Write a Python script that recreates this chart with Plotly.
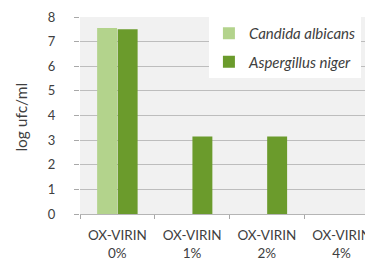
import plotly.graph_objects as go

categories = ["OX-VIRIN<br>0%", "OX-VIRIN<br>1%", "OX-VIRIN<br>2%", "OX-VIRIN<br>4%"]
candida = [7.55, 0, 0, 0]
aspergillus = [7.5, 3.15, 3.15, 0]
y_ticks = [0, 1, 2, 3, 4, 5, 6, 7, 8]

fig = go.Figure()
fig.add_trace(go.Bar(x=categories, y=candida, name="Candida albicans", legendgroup="c",
                     marker=dict(color="#b3d38c", line=dict(width=0))))
fig.add_trace(go.Bar(x=categories, y=aspergillus, name="Aspergillus niger", legendgroup="a",
                     marker=dict(color="#6b9b2c", line=dict(width=0))))

fig.update_layout(
    width=365, height=257,
    margin=dict(l=72, r=0, t=9, b=51),
    paper_bgcolor="white",
    plot_bgcolor="#f1f1f1",
    barmode="group",
    bargap=0.45,
    bargroupgap=0.03,
    font=dict(family="Lato, sans-serif", size=12, color="#404040"),
    legend=dict(x=0.44, y=1.0, xanchor="left", yanchor="top",
                bgcolor="white", font=dict(size=15, color="#404040", style="italic"),
                tracegroupgap=6, itemwidth=30),
    xaxis=dict(range=[-0.5, 3.42], tickson="boundaries", ticks="outside",
               ticklen=4, tickcolor="#a8a8a8", showline=True, linecolor="#b5b5b5",
               showgrid=False, automargin=False, ticklabelstandoff=9,
               tickfont=dict(size=13.5, color="#404040")),
    yaxis=dict(range=[0, 8], tickvals=y_ticks, showgrid=True, gridcolor="#bdbdbd",
               gridwidth=1, ticks="outside", ticklen=5, tickcolor="#a8a8a8",
               zeroline=False, automargin=False, ticklabelstandoff=16,
               tickfont=dict(size=13, color="#404040")),
    annotations=[dict(text="log ufc/ml", xref="paper", yref="paper", x=-0.201, y=0.49,
                      textangle=-90, showarrow=False, xanchor="center", yanchor="middle",
                      font=dict(size=15.5, color="#404040"))],
)

fig.write_html("out.html")
